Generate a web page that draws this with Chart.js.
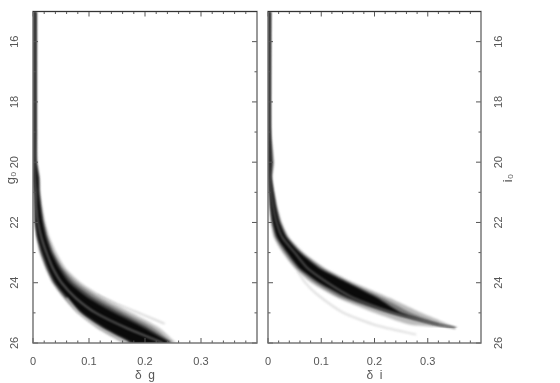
<!DOCTYPE html>
<html>
<head>
<meta charset="utf-8">
<style>
    body { margin: 0; background: #fff; }
    canvas { position: absolute; top: 0; filter: blur(0.35px); }
</style>
<script src="https://cdn.jsdelivr.net/npm/chart.js@4"></script>
</head>
<body>
<div style="position:absolute;left:0;width:260px;height:383px"><canvas id="leftChart"></canvas></div>
<div style="position:absolute;left:260px;width:300px;height:383px"><canvas id="rightChart"></canvas></div>
<script>
const xMajor = [0, 0.1, 0.2, 0.3];
const xMinor = [0.02, 0.04, 0.06, 0.08, 0.12, 0.14, 0.16, 0.18, 0.22, 0.24, 0.26, 0.28, 0.32, 0.34, 0.36, 0.38];
const yMajor = [16, 18, 20, 22, 24, 26];
const yMinor = [17, 19, 21, 23, 25];

// g panel: delta g read at each g0
const gMags = [15, 19, 20, 20.5, 21, 21.5, 22, 22.5, 23, 23.5, 24, 24.5, 25, 25.5, 26];
const gOuterHi = [.007, .007, .008, .012, .013, .017, .022, .030, .042, .058, .086, .128, .177, .226, .256];
const gMidHi = [.006, .006, .007, .011, .012, .015, .020, .027, .037, .053, .079, .118, .166, .216, .250];
const gDarkHi = [.006, .006, .006, .010, .011, .014, .018, .025, .035, .050, .072, .108, .156, .206, .248];
const gCoreHi = [.005, .005, .005, .009, .010, .013, .017, .023, .032, .046, .065, .098, .145, .198, .245];
const gCenter = [.002, .002, .002, .003, .005, .006, .009, .015, .024, .035, .051, .076, .112, .167, .232];
const gCoreLo = [0, 0, 0, 0, .003, .004, .005, .009, .017, .027, .040, .062, .088, .128, .180];
const gDarkLo = [0, 0, 0, 0, .003, .004, .004, .008, .015, .025, .038, .059, .084, .122, .173];
const gMidLo = [0, 0, 0, 0, .002, .003, .004, .007, .013, .023, .036, .056, .081, .117, .166];
const gOuterLo = [0, 0, 0, 0, .002, .003, .003, .006, .012, .022, .034, .054, .078, .113, .160];
const gStreakMags = [24.5, 25, 25.5, 26];
const gStreak = [.060, .082, .120, .170];
const gUpperMags = [24.4, 24.7, 25.05, 25.36];
const gUpper = [.115, .150, .195, .235];

// i panel: delta i read at each i0
const iMags = [15, 19, 20, 20.5, 21, 21.5, 22, 22.5, 23, 23.5, 24, 24.5, 25, 25.25, 25.4, 25.5];
const iOuterHi = [.006, .006, .011, .008, .012, .018, .026, .040, .067, .106, .162, .228, .288, .322, .342, .357];
const iMidHi = [.005, .005, .010, .007, .011, .016, .024, .037, .063, .101, .154, .215, .268, .305, .330, .356];
const iCoreHi = [.005, .005, .007, .006, .010, .015, .022, .035, .060, .095, .150, .205, .250, .292, .325, .354];
const iCenter = [.002, .002, .002, .003, .006, .010, .016, .027, .050, .073, .112, .160, .236, .288, .322, .352];
const iBlackLo = [0, 0, 0, .001, .003, .005, .009, .017, .036, .058, .096, .150, .232, .287, .321, .352];
const iCoreLo = [0, 0, 0, 0, .002, .004, .007, .014, .031, .053, .088, .138, .222, .276, .315, .351];
const iOuterLo = [0, 0, 0, 0, .001, .002, .005, .011, .027, .049, .081, .130, .200, .240, .270, .348];
const iStreakMags = [23.6, 24, 24.37, 24.98, 25.41, 25.72];
const iStreak = [.055, .070, .091, .140, .203, .278];

function toPoints(mags, values) {
    return mags.map((m, i) => ({ x: values[i], y: m }));
}

function edge(label, mags, values, fill, color) {
    return {
        label: label,
        data: toPoints(mags, values),
        borderWidth: 0,
        borderColor: 'transparent',
        backgroundColor: color || 'transparent',
        fill: fill === undefined ? false : fill,
        tension: 0.2
    };
}

function curve(label, mags, values, color, width) {
    return {
        label: label,
        data: toPoints(mags, values),
        borderWidth: width,
        borderColor: color,
        fill: false,
        tension: 0.2
    };
}

// soft edges on the density bands, the source is a blurry scan
const softBands = {
    id: 'softBands',
    beforeDatasetsDraw(chart) { chart.ctx.filter = 'blur(1px)'; },
    afterDatasetsDraw(chart) { chart.ctx.filter = 'none'; }
};

// draws frame and inward ticks from the scales, on all four sides
const frameTicks = {
    id: 'frameTicks',
    afterDraw(chart) {
        const ctx = chart.ctx;
        const a = chart.chartArea;
        const x = chart.scales.x;
        const y = chart.scales.y;
        ctx.save();
        ctx.strokeStyle = '#555';
        ctx.lineWidth = 1;
        function xTicks(list, len) {
            list.forEach(v => {
                const p = x.getPixelForValue(v);
                ctx.beginPath();
                ctx.moveTo(p, a.top);
                ctx.lineTo(p, a.top + len);
                ctx.moveTo(p, a.bottom);
                ctx.lineTo(p, a.bottom - len);
                ctx.stroke();
            });
        }
        function yTicks(list, len) {
            list.forEach(v => {
                const p = y.getPixelForValue(v);
                ctx.beginPath();
                ctx.moveTo(a.left, p);
                ctx.lineTo(a.left + len, p);
                ctx.moveTo(a.right, p);
                ctx.lineTo(a.right - len, p);
                ctx.stroke();
            });
        }
        xTicks(xMajor, 5);
        xTicks(xMinor, 2.5);
        yTicks(yMajor, 5);
        yTicks(yMinor, 2.5);
        ctx.strokeStyle = '#6e6e6e';
        ctx.lineWidth = 1.4;
        ctx.strokeRect(a.left, a.top, a.right - a.left, a.bottom - a.top);
        ctx.strokeStyle = '#333';
        ctx.lineWidth = 1;
        ctx.beginPath();
        ctx.moveTo(a.left, a.top);
        ctx.lineTo(a.right, a.top);
        ctx.stroke();
        ctx.restore();
    }
};

// rotated y axis name, both panels read bottom to top
const sideLabel = {
    id: 'sideLabel',
    afterDraw(chart, args, opts) {
        const ctx = chart.ctx;
        ctx.save();
        ctx.translate(opts.x, opts.y);
        ctx.rotate(-Math.PI / 2);
        ctx.fillStyle = '#555';
        ctx.font = '13px "Liberation Sans"';
        ctx.textAlign = 'center';
        ctx.textBaseline = 'middle';
        ctx.fillText(opts.text, 0, 0);
        ctx.restore();
    }
};

function makeChart(id, datasets, cfg) {
    new Chart(document.getElementById(id).getContext('2d'), {
        type: 'line',
        data: { datasets: datasets },
        plugins: [softBands, frameTicks, sideLabel],
        options: {
            indexAxis: 'y',
            responsive: true,
            maintainAspectRatio: false,
            animation: false,
            elements: { point: { radius: 0 } },
            layout: { padding: cfg.padding },
            plugins: {
                legend: { display: false },
                tooltip: { enabled: false },
                sideLabel: cfg.sideLabel
            },
            scales: {
                x: {
                    type: 'linear',
                    min: 0,
                    max: 0.4,
                    grid: { display: false },
                    border: { display: false },
                    afterBuildTicks: axis => { axis.ticks = xMajor.map(v => ({ value: v })); },
                    afterFit: axis => { axis.height = 40; },
                    title: {
                        display: true,
                        text: cfg.xTitle,
                        color: '#555',
                        font: { family: 'Liberation Sans', size: 12 },
                        padding: { top: 5, bottom: 0 }
                    },
                    ticks: {
                        color: '#555',
                        padding: 4,
                        maxRotation: 0,
                        autoSkip: false,
                        font: { family: 'Liberation Sans', size: 11 },
                        callback: v => String(v)
                    }
                },
                y: {
                    type: 'linear',
                    position: cfg.yPosition,
                    reverse: true,
                    min: 15,
                    max: 26,
                    grid: { display: false },
                    border: { display: false },
                    afterBuildTicks: axis => { axis.ticks = yMajor.map(v => ({ value: v })); },
                    afterFit: axis => { axis.width = cfg.yWidth; },
                    ticks: {
                        color: '#555',
                        padding: cfg.yPad,
                        minRotation: 90,
                        maxRotation: 90,
                        crossAlign: 'center',
                        autoSkip: false,
                        font: { family: 'Liberation Sans', size: 11 }
                    }
                }
            }
        }
    });
}

document.addEventListener('DOMContentLoaded', function () {
    // first dataset ends up on top, fill targets are dataset indexes
    makeChart('leftChart', [
        curve('g ridge', gMags, gCenter, '#6a6a6a', 1.6),
        curve('g gap', gStreakMags, gStreak, 'rgba(255,255,255,0.9)', 1.2),
        edge('g core hi', gMags, gCoreHi, 3, '#0a0a0a'),
        edge('g core lo', gMags, gCoreLo),
        edge('g dark hi', gMags, gDarkHi, 5, '#4a4a4a'),
        edge('g dark lo', gMags, gDarkLo),
        edge('g mid hi', gMags, gMidHi, 7, '#8c8c8c'),
        edge('g mid lo', gMags, gMidLo),
        edge('g outer hi', gMags, gOuterHi, 10, '#c6c6c6'),
        curve('g upper', gUpperMags, gUpper, '#d0d0d0', 1.5),
        edge('g outer lo', gMags, gOuterLo)
    ], {
        padding: { top: 11.5, right: 3, left: 0, bottom: 0 },
        yPosition: 'left',
        yWidth: 33,
        yPad: 4,
        xTitle: 'δ  g',
        sideLabel: { text: 'g₀', x: 11, y: 178 }
    });

    makeChart('rightChart', [
        curve('i ridge', iMags, iCenter, '#5a5a5a', 1.6),
        edge('i core hi', iMags, iCoreHi, 2, '#0a0a0a'),
        edge('i black lo', iMags, iBlackLo),
        edge('i mid hi', iMags, iMidHi, 4, '#777777'),
        edge('i core lo', iMags, iCoreLo),
        edge('i outer hi', iMags, iOuterHi, 6, '#bcbcbc'),
        edge('i outer lo', iMags, iOuterLo),
        curve('i streak', iStreakMags, iStreak, '#dedede', 2)
    ], {
        padding: { top: 11.5, right: 0, left: 8, bottom: 0 },
        yPosition: 'right',
        yWidth: 79,
        yPad: 4,
        xTitle: 'δ  i',
        sideLabel: { text: 'i₀', x: 248, y: 178 }
    });
});
</script>
</body>
</html>
